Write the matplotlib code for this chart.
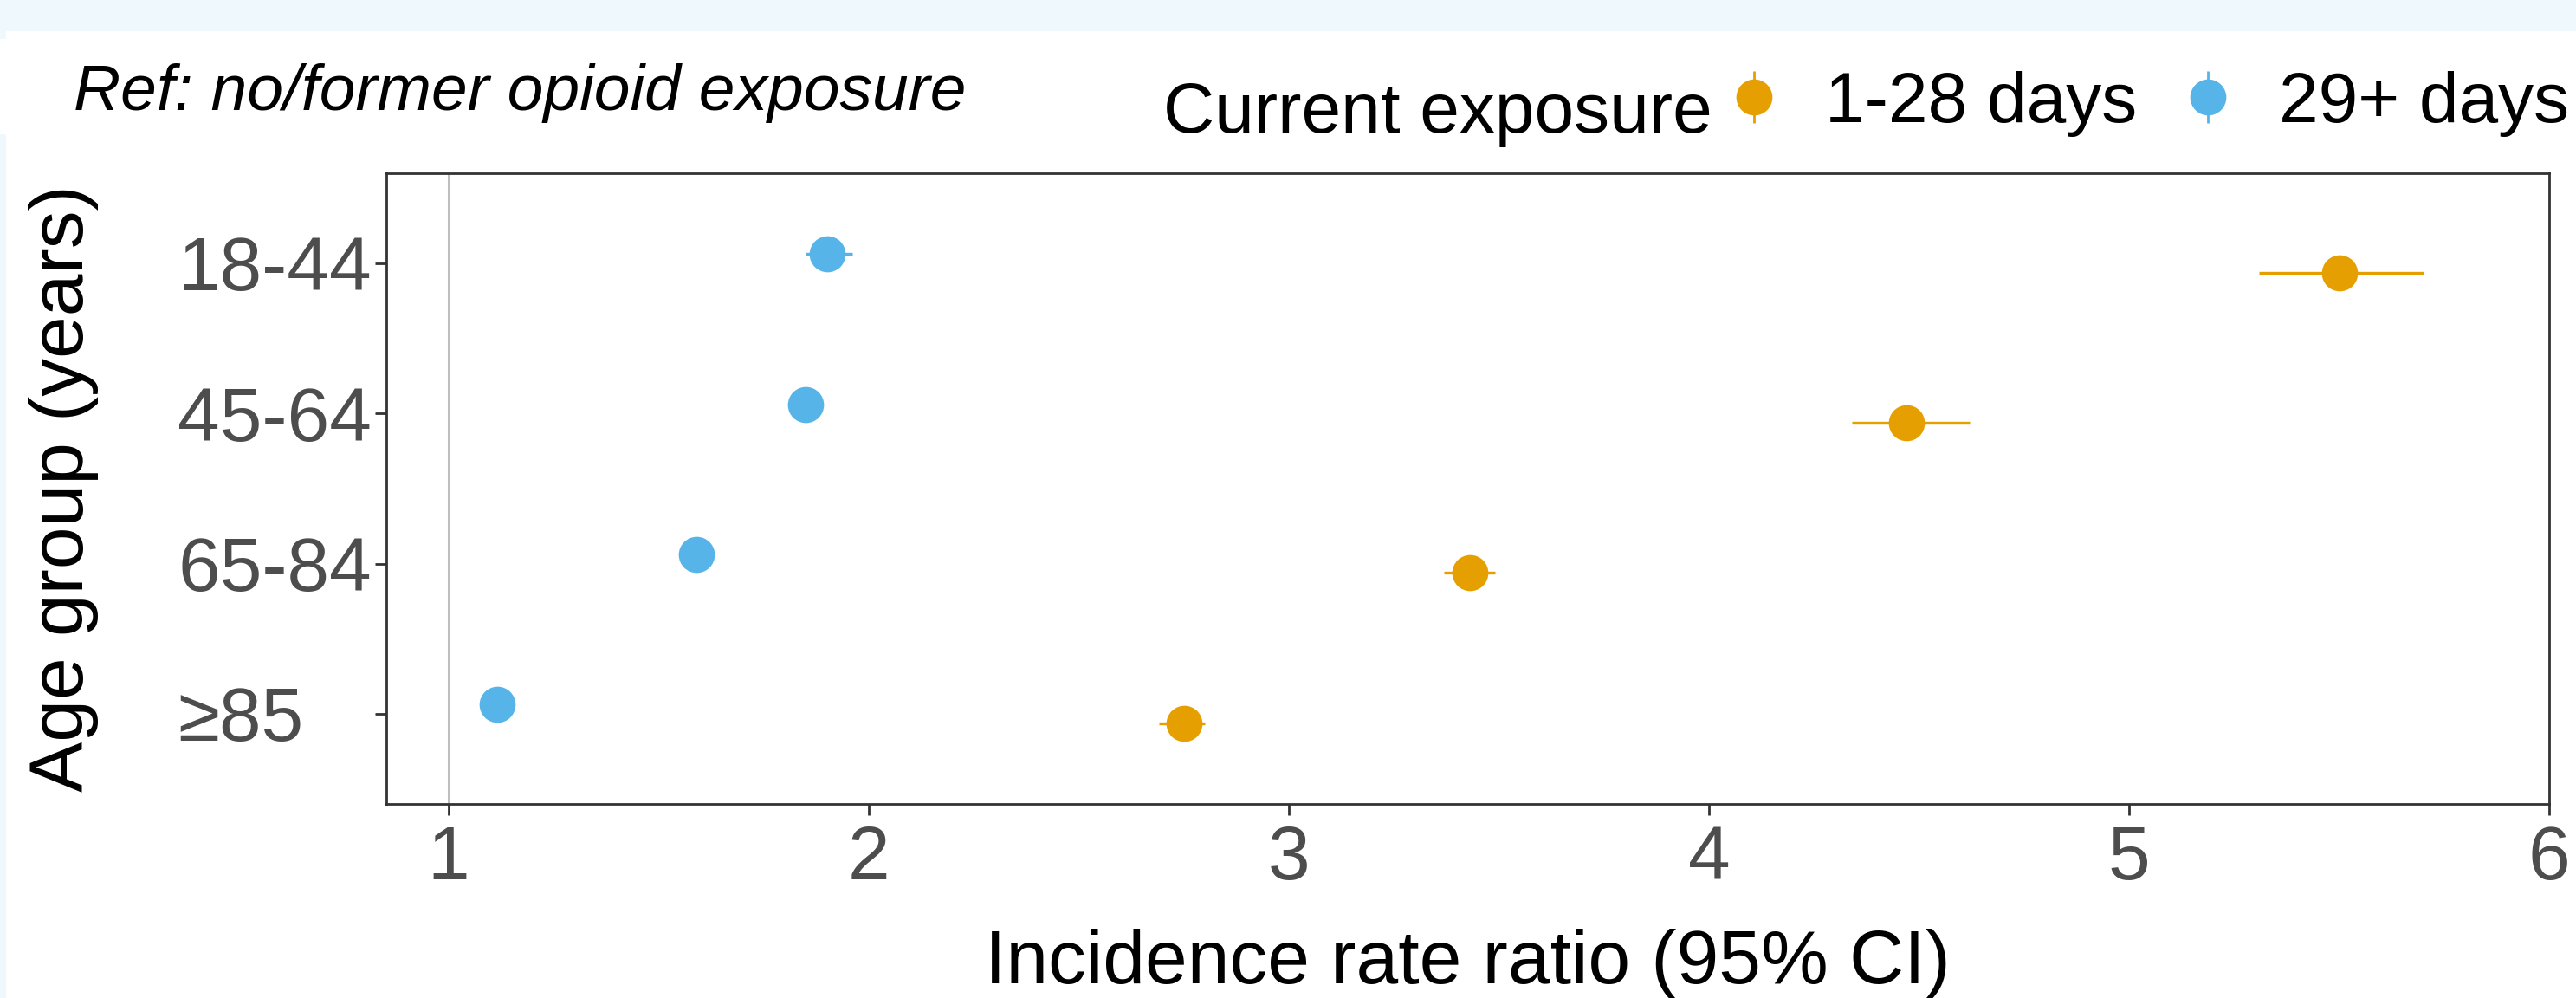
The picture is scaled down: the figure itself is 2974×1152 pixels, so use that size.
import matplotlib
matplotlib.use("Agg")
import matplotlib.pyplot as plt
from matplotlib.lines import Line2D
from matplotlib.patches import Rectangle
from matplotlib.legend_handler import HandlerTuple
import numpy as np

plt.rcParams['font.family'] = ['Liberation Sans', 'DejaVu Sans']

# ---- data ----
age_groups = ['18-44', '45-64', '65-84', '\u226585']
irr_1_28 = [5.50, 4.47, 3.43, 2.75]
lo_1_28 = [5.31, 4.34, 3.37, 2.69]
hi_1_28 = [5.70, 4.62, 3.49, 2.80]
irr_29 = [1.90, 1.85, 1.59, 1.115]
lo_29 = [1.85, 1.82, 1.57, 1.10]
hi_29 = [1.96, 1.88, 1.61, 1.13]
series_labels = ['1-28 days', '29+ days']
colors = ['#E69F00', '#56B4E9']
x_ticks = [1, 2, 3, 4, 5, 6]

W, H = 2974, 1152
fig = plt.figure(figsize=(W / 100, H / 100), dpi=100)
fig.patch.set_facecolor('white')

# light-blue page margins
bg = '#EEF8FD'
fig.patches.append(Rectangle((0, 1 - 36 / H), 1, 36 / H, transform=fig.transFigure,
                             facecolor=bg, edgecolor='none', zorder=0))
fig.patches.append(Rectangle((0, 0), 7 / W, 1 - 155 / H, transform=fig.transFigure,
                             facecolor=bg, edgecolor='none', zorder=0))
fig.patches.append(Rectangle((0, 1 - 45 / H), 7 / W, 9 / H, transform=fig.transFigure,
                             facecolor=bg, edgecolor='none', zorder=0))

left, right, top, bottom = 446, 2943, 200, 928
ax = fig.add_axes([left / W, 1 - bottom / H, (right - left) / W, (bottom - top) / H])

n = len(age_groups)
ypos = np.arange(n, 0, -1)  # 18-44 on top
dodge = 0.062

ax.axvline(1, color='#BEBEBE', lw=2.2, zorder=1)

handles = []
for vals, lo, hi, col, off in [(irr_1_28, lo_1_28, hi_1_28, colors[0], -dodge),
                               (irr_29, lo_29, hi_29, colors[1], dodge)]:
    vals = np.array(vals); lo = np.array(lo); hi = np.array(hi)
    ax.errorbar(vals, ypos + off, xerr=[vals - lo, hi - vals], fmt='none',
                ecolor=col, elinewidth=2.4, capsize=0, zorder=2)
    ax.plot(vals, ypos + off, 'o', ms=30, color=col, mew=0, zorder=3)
    h1 = Line2D([], [], marker='o', ms=30, color=col, mew=0, ls='none')
    h2 = Line2D([], [], marker='|', ms=43, mew=2, color=col, ls='none')
    handles.append((h1, h2))

ax.set_xlim(0.8515, 6.0)
ax.set_ylim(0.4, 4.6)
ax.set_xticks(x_ticks)
ax.set_xticklabels([str(t) for t in x_ticks])
ax.set_yticks(ypos)
ax.set_yticklabels(age_groups)

for s in ax.spines.values():
    s.set_color('#333333')
    s.set_linewidth(2.0)

ax.tick_params(axis='both', colors='#333333', width=2.0, length=9.4,
               labelcolor='#4D4D4D', labelsize=63)
ax.tick_params(axis='x', pad=8)
ax.tick_params(axis='y', pad=164)
for lab in ax.get_yticklabels():
    lab.set_horizontalalignment('left')

ax.set_xlabel('Incidence rate ratio (95% CI)', fontsize=63, color='black', labelpad=28)
ax.set_ylabel('Age group (years)', fontsize=63, color='black')
ax.yaxis.set_label_coords(-0.149, 0.5)
ax.yaxis.label.set_verticalalignment('center')

# subtitle
fig.text(85 / W, 1 - 127 / H, 'Ref: no/former opioid exposure', fontsize=54,
         style='italic', color='black', va='baseline', ha='left')

# legend
fig.text(1343 / W, 1 - 153 / H, 'Current exposure', fontsize=59, color='black',
         va='baseline', ha='left')
leg = fig.legend(handles, series_labels, handler_map={tuple: HandlerTuple(ndivide=1)},
                 loc='center left', bbox_to_anchor=(1984 / W, 1 - 120 / H),
                 ncol=2, frameon=False, fontsize=59, borderpad=0, borderaxespad=0,
                 handlelength=1.0, handletextpad=0.5, columnspacing=0.5)

fig.savefig('out.png', dpi=100, facecolor=fig.get_facecolor())
